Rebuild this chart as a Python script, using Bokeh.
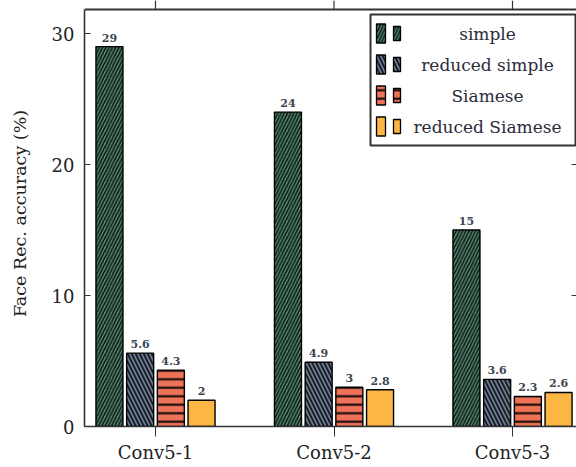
import numpy as np
from bokeh.plotting import figure
from bokeh.models import (ColumnDataSource, FixedTicker, Range1d, Span, LinearAxis)
from bokeh.core.properties import value
from bokeh.embed import file_html
from bokeh.resources import INLINE

# ---- data ----
categories = ["Conv5-1", "Conv5-2", "Conv5-3"]
series_names = ["simple", "reduced simple", "Siamese", "reduced Siamese"]
simple = [29, 24, 15]
reduced_simple = [5.6, 4.9, 3.6]
siamese = [4.3, 3, 2.3]
reduced_siamese = [2, 2.8, 2.6]
y_ticks = [0, 10, 20, 30]

series_values = [simple, reduced_simple, siamese, reduced_siamese]

# ---- styles ----
FONT = "DejaVu Serif"
AXIS_COL = "#333333"
styles = [
    dict(fill_color="#5a9177", hatch_pattern="/", hatch_color="#0e1d17", hatch_scale=6.5, hatch_weight=1.7),
    dict(fill_color="#6e7c90", hatch_pattern="\\", hatch_color="#141a24", hatch_scale=8, hatch_weight=1.8),
    dict(fill_color="#ee7258", hatch_pattern="-", hatch_color="#1a0d0a", hatch_scale=8.5, hatch_weight=2.2),
    dict(fill_color="#fbb643", hatch_pattern=" ", hatch_color="#000000", hatch_scale=8, hatch_weight=1),
]

W, H = 576, 467
LEFT, BOTTOM = 84, 41
FW, FH = W - LEFT, H - BOTTOM          # frame size in pixels
CAT_PX = 178.5                         # pixels between category centres
Y_PX = 13.1                            # pixels per y unit
X0 = -(155 - LEFT) / CAT_PX
X1 = X0 + FW / CAT_PX
Y1 = FH / Y_PX


def px_x(px):
    return X0 + (px - LEFT) / CAT_PX


def px_y(py):
    return (FH - py) / Y_PX


Y_TOP = px_y(9)        # top edge of the axis box

p = figure(width=W, height=H, output_backend="svg", toolbar_location=None,
           x_range=Range1d(X0, X1), y_range=Range1d(0, Y1),
           min_border_left=LEFT, min_border_bottom=BOTTOM,
           min_border_top=0, min_border_right=0,
           x_axis_type=None, y_axis_type=None)
p.outline_line_color = None
p.grid.visible = False
p.background_fill_color = "white"
p.border_fill_color = "white"

# ---- bars ----
idx = np.arange(len(categories))
pitch = 30.7 / CAT_PX
bar_w = 27 / CAT_PX
offsets = (np.arange(4) - 1.5) * pitch
for vals, off, st in zip(series_values, offsets, styles):
    src = ColumnDataSource(dict(x=idx + off, top=vals,
                                lbl=[("%g" % v) for v in vals]))
    p.vbar(x="x", top="top", width=bar_w, source=src, line_color="black",
           line_width=1.4, **st)
    p.text(x="x", y="top", text="lbl", source=src, text_align="center",
           text_baseline="bottom", y_offset=-5, text_font=value(FONT),
           text_font_size="11px", text_font_style="bold", text_color="#3c4552")

# ---- axes ----
yax = LinearAxis(ticker=FixedTicker(ticks=y_ticks), bounds=(0, Y_TOP))
yax.axis_label = "Face Rec. accuracy (%)"
yax.axis_label_text_font = FONT
yax.axis_label_text_font_size = "17.5px"
yax.axis_label_text_font_style = "normal"
yax.axis_label_text_color = "#222222"
yax.axis_label_standoff = 19
yax.major_label_text_font = FONT
yax.major_label_text_font_size = "18px"
yax.major_label_text_color = "#222222"
yax.major_label_standoff = 10
yax.major_tick_in = 6
yax.major_tick_out = 0
yax.minor_tick_line_color = None
yax.axis_line_width = 1.6
yax.axis_line_color = AXIS_COL
yax.major_tick_line_color = AXIS_COL
p.add_layout(yax, "left")

xax = LinearAxis(ticker=FixedTicker(ticks=list(idx)),
                 major_label_overrides={int(i): c for i, c in zip(idx, categories)})
xax.major_label_text_font = FONT
xax.major_label_text_font_size = "18px"
xax.major_label_text_color = "#222222"
xax.major_label_standoff = 5
xax.major_tick_in = 0
xax.major_tick_out = 10
xax.minor_tick_line_color = None
xax.axis_line_width = 1.6
xax.axis_line_color = AXIS_COL
xax.major_tick_line_color = AXIS_COL
p.add_layout(xax, "below")

# top edge of the axis box with its outward category ticks
p.add_layout(Span(location=Y_TOP, dimension="width", line_color=AXIS_COL, line_width=2))
p.segment(x0=idx, y0=Y_TOP, x1=idx, y1=Y1, line_color=AXIS_COL, line_width=1.2)

# inward ticks on the right edge
p.segment(x0=[px_x(571)] * 3, y0=y_ticks[1:], x1=[X1] * 3, y1=y_ticks[1:],
          line_color=AXIS_COL, line_width=1.2)

# ---- legend box ----
p.quad(left=[px_x(370)], right=[px_x(575)], top=[px_y(14)], bottom=[px_y(145)],
       fill_color="white", line_color=AXIS_COL, line_width=2)
for r, (name, st) in enumerate(zip(series_names, styles)):
    cy = 33 + 31 * r
    p.quad(left=[px_x(376)], right=[px_x(385)], top=[px_y(cy - 9.5)],
           bottom=[px_y(cy + 9.5)], line_color="black", line_width=1.3, **st)
    p.quad(left=[px_x(393)], right=[px_x(400)], top=[px_y(cy - 7)],
           bottom=[px_y(cy + 7)], line_color="black", line_width=1.3, **st)
    p.text(x=[px_x(487)], y=[px_y(cy)], text=[name], text_align="center",
           text_baseline="middle", text_font=value(FONT), text_font_size="17px",
           text_color="#2b2b3b")

open("out.html", "w").write(file_html(p, INLINE))
